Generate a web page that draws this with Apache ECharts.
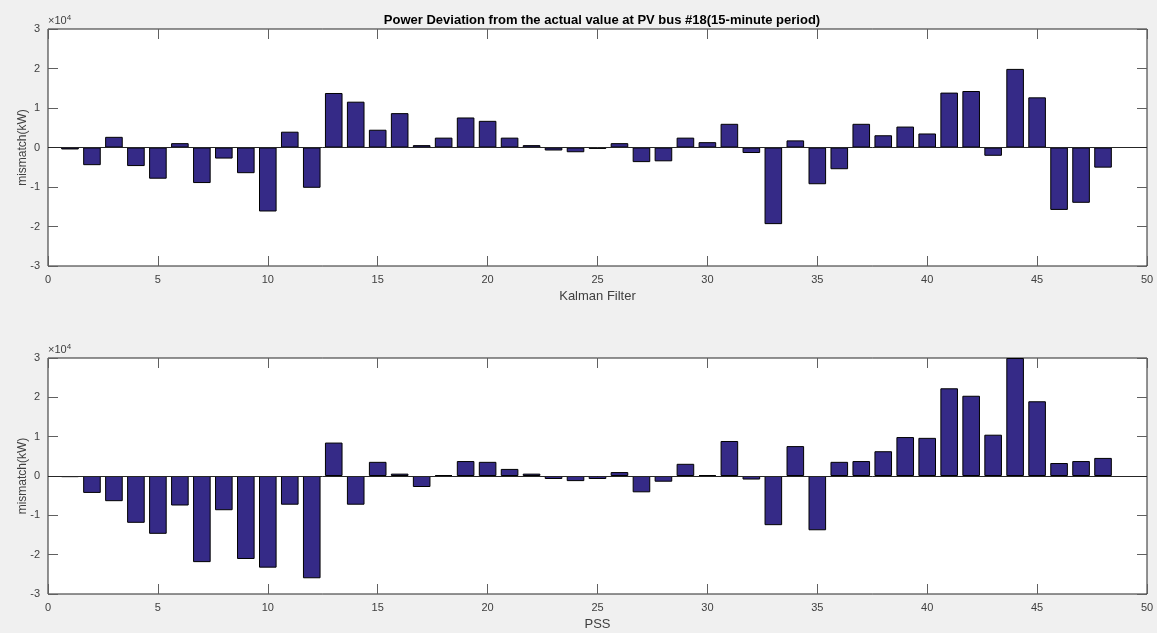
<!DOCTYPE html>
<html>
<head>
<meta charset="utf-8">
<script src="https://cdn.jsdelivr.net/npm/echarts@6/dist/echarts.min.js"></script>
<style>
html,body{margin:0;padding:0;background:#f0f0f0;}
#c{width:1157px;height:633px;}
</style>
</head>
<body>
<div id="c"></div>
<script>
const periods = [1,2,3,4,5,6,7,8,9,10,11,12,13,14,15,16,17,18,19,20,21,22,23,24,25,26,27,28,29,30,31,32,33,34,35,36,37,38,39,40,41,42,43,44,45,46,47,48];
const kalman = [-500,-4470,2700,-4700,-7900,1100,-9000,-2800,-6500,-16200,4000,-10200,
  13800,11600,4500,8700,600,2500,7600,6750,2500,600,-760,-1200,
  -350,1100,-3700,-3500,2500,1350,6000,-1400,-19400,1800,-9300,-5500,
  6000,3100,5300,3550,13900,14300,-2100,19900,12700,-15800,-14000,-5100];
const pss = [-300,-4300,-6400,-11900,-14700,-7500,-21900,-8700,-21100,-23300,-7300,-26000,
  8500,-7300,3600,600,-2800,250,3800,3600,1800,600,-760,-1300,
  -760,1000,-4150,-1450,3100,250,8900,-900,-12500,7600,-13800,3600,
  3800,6300,9900,9700,22300,20400,10500,30000,19000,3300,3800,4600];
const titleText = 'Power Deviation from the actual value at PV bus #18(15-minute period)';
const yName = 'mismatch(kW)';
const xNames = ['Kalman Filter', 'PSS'];

const FONT = 'Liberation Sans, Arial, Helvetica, sans-serif';
const axisCol = '#262626';
const labelCol = '#404040';
const tickCol = '#606060';
const grids = [
  {left: 48, top: 29, width: 1099, height: 237},
  {left: 48, top: 358, width: 1099, height: 236}
];

function xAxes(gi, name) {
  return [
    {gridIndex: gi, type: 'value', min: 0, max: 50, interval: 5, position: 'bottom',
     name: name, nameLocation: 'middle', nameGap: 24, nameMoveOverlap: false,
     nameTextStyle: {fontFamily: FONT, fontSize: 13, color: labelCol},
     axisLine: {show: false, onZero: false}, splitLine: {show: false},
     axisTick: {show: true, inside: true, length: 10, lineStyle: {color: tickCol}},
     axisLabel: {fontFamily: FONT, fontSize: 11, color: labelCol, margin: 8}},
    {gridIndex: gi, type: 'value', min: 0, max: 50, interval: 5, position: 'top',
     axisLine: {show: false, onZero: false}, splitLine: {show: false},
     axisTick: {show: true, inside: true, length: 10, lineStyle: {color: tickCol}},
     axisLabel: {show: false}}
  ];
}
function yAxes(gi) {
  return [
    {gridIndex: gi, type: 'value', min: -30000, max: 30000, interval: 10000, position: 'left',
     name: yName, nameLocation: 'middle', nameGap: 19, nameRotate: 90, nameMoveOverlap: false,
     nameTextStyle: {fontFamily: FONT, fontSize: 12, color: labelCol},
     axisLine: {show: false, onZero: false}, splitLine: {show: false},
     axisTick: {show: true, inside: true, length: 10, lineStyle: {color: tickCol}},
     axisLabel: {fontFamily: FONT, fontSize: 11, color: labelCol, margin: 8,
       formatter: v => String(v / 10000)}},
    {gridIndex: gi, type: 'value', min: -30000, max: 30000, interval: 10000, position: 'right',
     axisLine: {show: false, onZero: false}, splitLine: {show: false},
     axisTick: {show: true, inside: true, length: 10, lineStyle: {color: tickCol}},
     axisLabel: {show: false}}
  ];
}
function barSeries(gi, vals) {
  return {
    type: 'bar', xAxisIndex: gi * 2, yAxisIndex: gi * 2,
    data: periods.map((p, i) => [p, vals[i]]),
    barWidth: 17.6, clip: true,
    itemStyle: {color: '#352a87', borderColor: '#000000', borderWidth: 1},
    emphasis: {disabled: true},
    markLine: {silent: true, symbol: 'none', label: {show: false},
      lineStyle: {color: '#262626', type: 'solid', width: 1},
      data: [{yAxis: 0}]},
    animation: false
  };
}
const chart = echarts.init(document.getElementById('c'), null, {renderer: 'canvas'});
chart.setOption({
  backgroundColor: '#f0f0f0',
  animation: false,
  title: {text: titleText, left: 597, top: 9, textAlign: 'center',
    textStyle: {fontFamily: FONT, fontSize: 13, fontWeight: 'bold', color: '#000'}},
  grid: grids.map(g => Object.assign({show: true, backgroundColor: '#ffffff', borderColor: axisCol, borderWidth: 1, containLabel: false}, g)),
  xAxis: [...xAxes(0, xNames[0]), ...xAxes(1, xNames[1])],
  yAxis: [...yAxes(0), ...yAxes(1)],
  series: [barSeries(0, kalman), barSeries(1, pss)],
  graphic: [
    {type: 'text', left: 48, top: 14, style: {rich: {a: {fontFamily: FONT, fontSize: 11, fill: labelCol}, b: {fontFamily: FONT, fontSize: 8, fill: labelCol, verticalAlign: 'top', padding: [0,0,6,0]}}, text: '{a|\u00d710}{b|4}'}},
    {type: 'text', left: 48, top: 343, style: {rich: {a: {fontFamily: FONT, fontSize: 11, fill: labelCol}, b: {fontFamily: FONT, fontSize: 8, fill: labelCol, verticalAlign: 'top', padding: [0,0,6,0]}}, text: '{a|\u00d710}{b|4}'}}
  ]
});
</script>
</body>
</html>
